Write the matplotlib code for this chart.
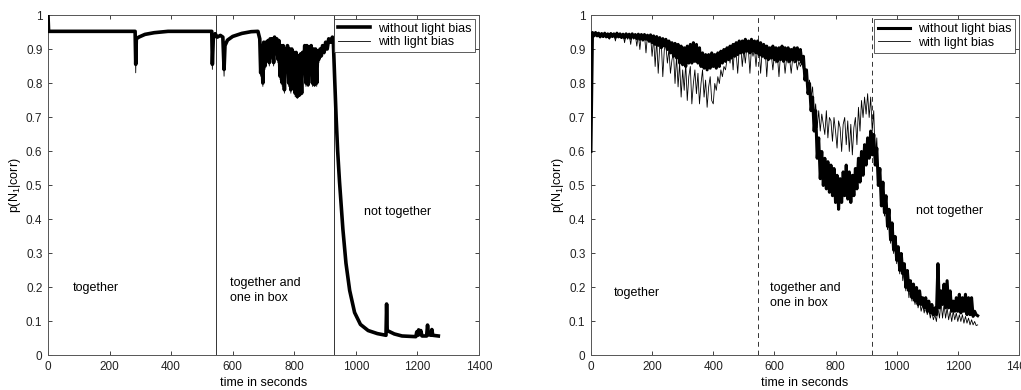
import matplotlib

matplotlib.use("Agg")
import matplotlib.pyplot as plt
import numpy as np

plt.rcParams["font.family"] = ["Liberation Sans", "DejaVu Sans"]
plt.rcParams["mathtext.fontset"] = "custom"
plt.rcParams["mathtext.rm"] = "Liberation Sans"
plt.rcParams["mathtext.it"] = "Liberation Sans"
plt.rcParams["mathtext.default"] = "regular"

# ---- left panel: irregular sampling, spikes kept as explicit points ----
left_time = [
    0, 2, 283, 285, 287, 295, 315, 345, 390, 532, 534, 537, 543, 550, 560, 568, 572, 575,
    583, 600, 630, 660, 682, 688, 691, 694, 698, 701, 705, 708, 712, 715, 719, 722, 726,
    729, 733, 736, 740, 743, 747, 750, 754, 757, 761, 764, 768, 771, 775, 778, 782, 785,
    789, 792, 796, 799, 803, 806, 810, 813, 817, 820, 824, 827, 831, 834, 838, 841, 845,
    848, 852, 855, 859, 862, 866, 869, 873, 876, 880, 884, 888, 892, 897, 902, 907, 912,
    918, 924, 927, 931, 936, 941, 947, 958, 968, 980, 996, 1015, 1040, 1070, 1098, 1100,
    1102, 1125, 1150, 1195, 1198, 1201, 1204, 1207, 1211, 1215, 1230, 1233, 1236, 1245,
    1247, 1250, 1268,
]
left_without = [
    1.0, 0.952, 0.952, 0.855, 0.93, 0.935, 0.943, 0.948, 0.952, 0.952, 0.855, 0.93, 0.945,
    0.935, 0.94, 0.935, 0.84, 0.91, 0.926, 0.937, 0.946, 0.951, 0.952, 0.93, 0.83, 0.91,
    0.80, 0.92, 0.85, 0.92, 0.87, 0.925, 0.86, 0.93, 0.88, 0.93, 0.86, 0.935, 0.89, 0.93,
    0.87, 0.925, 0.82, 0.91, 0.80, 0.91, 0.78, 0.90, 0.84, 0.91, 0.80, 0.90, 0.78, 0.90,
    0.79, 0.89, 0.77, 0.89, 0.76, 0.88, 0.765, 0.885, 0.77, 0.89, 0.85, 0.91, 0.80, 0.91,
    0.795, 0.905, 0.83, 0.91, 0.80, 0.90, 0.795, 0.90, 0.80, 0.895, 0.87, 0.90, 0.88, 0.91,
    0.89, 0.92, 0.90, 0.93, 0.92, 0.935, 0.92, 0.82, 0.70, 0.60, 0.51, 0.37, 0.27, 0.19,
    0.125, 0.09, 0.072, 0.063, 0.058, 0.15, 0.072, 0.062, 0.056, 0.054, 0.068, 0.058,
    0.074, 0.06, 0.072, 0.056, 0.056, 0.088, 0.06, 0.058, 0.075, 0.058, 0.056,
]
left_with = [
    1.0, 0.952, 0.952, 0.83, 0.93, 0.935, 0.943, 0.948, 0.952, 0.952, 0.84, 0.93, 0.945,
    0.935, 0.94, 0.935, 0.82, 0.91, 0.926, 0.937, 0.946, 0.951, 0.952, 0.93, 0.82, 0.91,
    0.79, 0.92, 0.84, 0.92, 0.86, 0.925, 0.85, 0.93, 0.87, 0.93, 0.85, 0.935, 0.88, 0.93,
    0.86, 0.925, 0.81, 0.91, 0.79, 0.91, 0.77, 0.90, 0.83, 0.91, 0.79, 0.90, 0.77, 0.90,
    0.78, 0.89, 0.76, 0.89, 0.755, 0.88, 0.76, 0.885, 0.765, 0.89, 0.84, 0.91, 0.79, 0.91,
    0.79, 0.905, 0.82, 0.91, 0.79, 0.90, 0.79, 0.90, 0.79, 0.895, 0.86, 0.90, 0.875, 0.91,
    0.885, 0.92, 0.90, 0.93, 0.92, 0.935, 0.92, 0.82, 0.70, 0.60, 0.51, 0.37, 0.27, 0.19,
    0.125, 0.09, 0.072, 0.063, 0.058, 0.14, 0.07, 0.062, 0.056, 0.054, 0.068, 0.058,
    0.074, 0.06, 0.07, 0.056, 0.056, 0.085, 0.06, 0.058, 0.075, 0.058, 0.056,
]
left_phase_lines = [545, 930]

# ---- right panel: one reading every 5 s, 0 .. 1265 s ----
right_step = 5
right_without = [
    0.60, 0.95, 0.94, 0.95, 0.94, 0.948, 0.937, 0.947, 0.938, 0.948,
    0.937, 0.946, 0.935, 0.947, 0.938, 0.946, 0.936, 0.948, 0.937, 0.946,
    0.935, 0.945, 0.934, 0.946, 0.936, 0.945, 0.933, 0.946, 0.935, 0.944,
    0.932, 0.945, 0.93, 0.944, 0.928, 0.944, 0.93, 0.942, 0.925, 0.943,
    0.92, 0.94, 0.915, 0.938, 0.912, 0.935, 0.905, 0.932, 0.91, 0.93,
    0.90, 0.925, 0.89, 0.92, 0.88, 0.918, 0.875, 0.915, 0.86, 0.91,
    0.855, 0.905, 0.85, 0.91, 0.86, 0.915, 0.86, 0.92, 0.865, 0.915,
    0.86, 0.905, 0.85, 0.89, 0.845, 0.885, 0.84, 0.885, 0.845, 0.89,
    0.85, 0.885, 0.845, 0.89, 0.85, 0.895, 0.86, 0.90, 0.865, 0.905,
    0.87, 0.91, 0.875, 0.915, 0.88, 0.92, 0.885, 0.925, 0.89, 0.925,
    0.89, 0.93, 0.895, 0.925, 0.89, 0.93, 0.895, 0.925, 0.89, 0.925,
    0.885, 0.92, 0.88, 0.915, 0.875, 0.91, 0.87, 0.905, 0.875, 0.91,
    0.87, 0.905, 0.865, 0.905, 0.87, 0.91, 0.865, 0.905, 0.87, 0.905,
    0.865, 0.90, 0.87, 0.905, 0.865, 0.905, 0.87, 0.90, 0.86, 0.88,
    0.81, 0.84, 0.77, 0.80, 0.72, 0.76, 0.66, 0.72, 0.58, 0.64,
    0.52, 0.60, 0.50, 0.58, 0.49, 0.57, 0.48, 0.56, 0.47, 0.55,
    0.45, 0.53, 0.43, 0.52, 0.45, 0.54, 0.47, 0.56, 0.46, 0.54,
    0.45, 0.53, 0.47, 0.55, 0.49, 0.58, 0.51, 0.60, 0.53, 0.62,
    0.56, 0.64, 0.58, 0.66, 0.59, 0.65, 0.56, 0.61, 0.50, 0.55,
    0.44, 0.51, 0.42, 0.47, 0.38, 0.43, 0.34, 0.39, 0.31, 0.35,
    0.28, 0.32, 0.25, 0.30, 0.24, 0.27, 0.20, 0.25, 0.19, 0.22,
    0.17, 0.21, 0.16, 0.20, 0.15, 0.19, 0.15, 0.17, 0.14, 0.17,
    0.13, 0.16, 0.125, 0.15, 0.12, 0.14, 0.12, 0.27, 0.14, 0.19,
    0.15, 0.21, 0.14, 0.22, 0.14, 0.19, 0.13, 0.16, 0.13, 0.17,
    0.13, 0.18, 0.125, 0.17, 0.13, 0.18, 0.12, 0.17, 0.12, 0.17,
    0.115, 0.13, 0.12, 0.117,
]
right_with = [
    0.60, 0.95, 0.94, 0.95, 0.945, 0.948, 0.94, 0.947, 0.935, 0.948,
    0.94, 0.946, 0.93, 0.947, 0.94, 0.946, 0.925, 0.948, 0.937, 0.946,
    0.935, 0.945, 0.92, 0.946, 0.93, 0.945, 0.915, 0.946, 0.93, 0.944,
    0.91, 0.945, 0.90, 0.944, 0.925, 0.944, 0.89, 0.942, 0.92, 0.94,
    0.88, 0.935, 0.85, 0.93, 0.83, 0.91, 0.92, 0.82, 0.90, 0.915,
    0.86, 0.90, 0.83, 0.87, 0.89, 0.80, 0.88, 0.79, 0.86, 0.76,
    0.84, 0.78, 0.86, 0.75, 0.82, 0.85, 0.74, 0.80, 0.84, 0.77,
    0.83, 0.74, 0.80, 0.84, 0.76, 0.81, 0.73, 0.79, 0.82, 0.75,
    0.74, 0.80, 0.78, 0.82, 0.80, 0.84, 0.82, 0.85, 0.84, 0.87,
    0.89, 0.86, 0.90, 0.84, 0.91, 0.89, 0.83, 0.90, 0.91, 0.85,
    0.90, 0.86, 0.91, 0.90, 0.83, 0.905, 0.88, 0.90, 0.85, 0.91,
    0.90, 0.83, 0.895, 0.88, 0.90, 0.82, 0.89, 0.87, 0.885, 0.84,
    0.885, 0.86, 0.88, 0.82, 0.885, 0.87, 0.88, 0.83, 0.875, 0.86,
    0.87, 0.83, 0.875, 0.86, 0.87, 0.84, 0.865, 0.85, 0.86, 0.84,
    0.82, 0.84, 0.79, 0.81, 0.76, 0.79, 0.70, 0.74, 0.67, 0.72,
    0.66, 0.71, 0.68, 0.65, 0.72, 0.64, 0.70, 0.69, 0.63, 0.70,
    0.66, 0.61, 0.69, 0.67, 0.60, 0.68, 0.70, 0.62, 0.69, 0.60,
    0.68, 0.59, 0.67, 0.70, 0.62, 0.73, 0.66, 0.75, 0.70, 0.76,
    0.71, 0.77, 0.70, 0.76, 0.66, 0.72, 0.57, 0.64, 0.50, 0.55,
    0.44, 0.50, 0.41, 0.46, 0.37, 0.42, 0.33, 0.38, 0.30, 0.34,
    0.27, 0.30, 0.24, 0.28, 0.22, 0.25, 0.19, 0.23, 0.17, 0.20,
    0.16, 0.19, 0.15, 0.18, 0.14, 0.16, 0.13, 0.15, 0.125, 0.15,
    0.12, 0.14, 0.11, 0.13, 0.105, 0.12, 0.10, 0.14, 0.11, 0.16,
    0.11, 0.15, 0.11, 0.14, 0.105, 0.13, 0.10, 0.13, 0.105, 0.125,
    0.10, 0.12, 0.10, 0.12, 0.095, 0.115, 0.095, 0.11, 0.09, 0.105,
    0.09, 0.10, 0.088, 0.09,
]
right_phase_lines = [545, 918]

series_labels = ["without light bias", "with light bias"]
x_ticks = [0, 200, 400, 600, 800, 1000, 1200, 1400]
y_ticks = [0, 0.1, 0.2, 0.3, 0.4, 0.5, 0.6, 0.7, 0.8, 0.9, 1]
y_tick_labels = ["0", "0.1", "0.2", "0.3", "0.4", "0.5", "0.6", "0.7", "0.8", "0.9", "1"]

# phase annotations: (text, x, y)
left_notes = [("together", 80, 0.197), ("together and\none in box", 590, 0.19),
              ("not together", 1025, 0.42)]
right_notes = [("together", 75, 0.184), ("together and\none in box", 585, 0.177),
               ("not together", 1062, 0.426)]

FONT = 8.5


def style_axes(ax):
    """MATLAB-like box with inward ticks on all four sides."""
    ax.set_xlim(0, 1400)
    ax.set_ylim(0, 1)
    ax.set_xticks(x_ticks)
    ax.set_yticks(y_ticks)
    ax.set_yticklabels(y_tick_labels)
    ax.tick_params(direction="in", top=True, right=True, length=3, width=0.6,
                   labelsize=FONT, pad=4, colors="#222222")
    for sp in ax.spines.values():
        sp.set_linewidth(0.7)
        sp.set_color("#555555")
    ax.set_xlabel("time in seconds", fontsize=FONT + 0.5, labelpad=3)
    ax.set_ylabel("p(N$_1$|corr)", fontsize=FONT + 0.5, labelpad=2)


def draw_panel(ax, t, without, with_bias, phase_lines, line_style, notes, thick_lw):
    ax.plot(t, with_bias, color="black", lw=0.6, label=series_labels[1], zorder=2)
    ax.plot(t, without, color="black", lw=thick_lw, label=series_labels[0], zorder=3)
    for x in phase_lines:
        ax.axvline(x, color="#333333", lw=0.7, ls=line_style, zorder=1)
    for txt, x, y in notes:
        ax.text(x, y, txt, fontsize=FONT + 0.5, va="center", ha="left", linespacing=1.3)
    handles, labels = ax.get_legend_handles_labels()
    leg = ax.legend(handles[::-1], labels[::-1], loc="upper right", fontsize=FONT + 0.5,
                    frameon=True, fancybox=False, borderaxespad=0.3, handlelength=2.6,
                    handletextpad=0.6, borderpad=0.3, labelspacing=0.15)
    leg.get_frame().set_edgecolor("#333333")
    leg.get_frame().set_linewidth(0.7)
    style_axes(ax)


fig = plt.figure(figsize=(10.21, 3.9), dpi=100)
ax_left = fig.add_axes([0.0470, 0.0897, 0.4221, 0.8718])
ax_right = fig.add_axes([0.5788, 0.0885, 0.4192, 0.8718])

draw_panel(ax_left, left_time, left_without, left_with, left_phase_lines, "-", left_notes,
           2.6)

right_time = np.arange(len(right_without)) * right_step
draw_panel(ax_right, right_time, right_without, right_with, right_phase_lines, (0, (5, 4)),
           right_notes, 2.2)

fig.savefig("out.png", dpi=100)
